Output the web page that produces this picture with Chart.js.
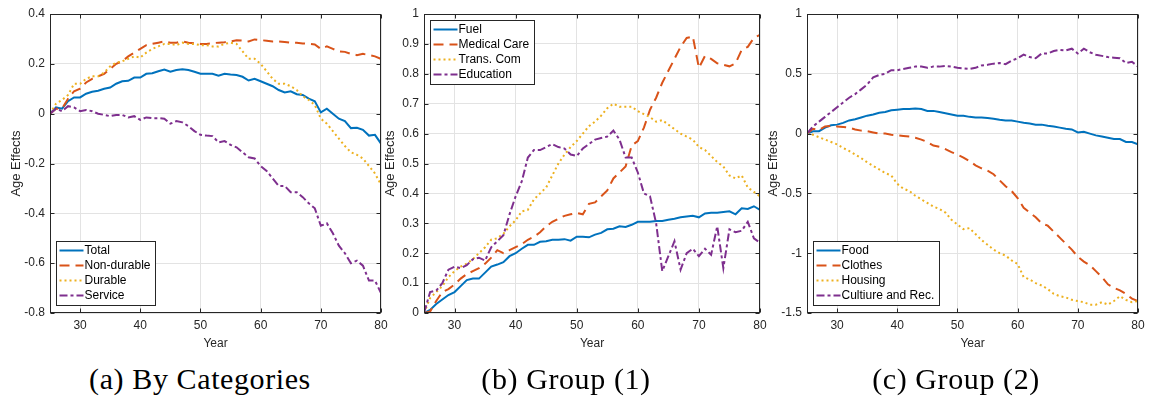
<!DOCTYPE html>
<html>
<head>
<meta charset="utf-8">
<script src="https://cdn.jsdelivr.net/npm/chart.js@4.4.0/dist/chart.umd.min.js"></script>
<style>
  body { margin: 0; background: #fff; width: 1149px; height: 403px; position: relative; overflow: hidden; }
  canvas { position: absolute; top: 0; }
  .cap { position: absolute; top: 364px; font-family: "Liberation Serif", serif; font-size: 30px; line-height: 30px;
         white-space: nowrap; transform: translateX(-50%); color: #000; letter-spacing: 0.6px; }
</style>
</head>
<body>
<canvas id="c1" width="390" height="360" style="left:0px"></canvas>
<canvas id="c2" width="396" height="360" style="left:374px"></canvas>
<canvas id="c3" width="390" height="360" style="left:757px"></canvas>
<div class="cap" style="left:200px">(a) By Categories</div>
<div class="cap" style="left:566px">(b) Group (1)</div>
<div class="cap" style="left:956px">(c) Group (2)</div>
<script>
const years = [25,26,27,28,29,30,31,32,33,34,35,36,37,38,39,40,41,42,43,44,45,46,47,48,49,50,51,52,
  53,54,55,56,57,58,59,60,61,62,63,64,65,66,67,68,69,70,71,72,73,74,75,76,77,78,79,80];
const xTicks = [30, 40, 50, 60, 70, 80];

// (a) By Categories
const labelsA = ["Total", "Non-durable", "Durable", "Service"];
const totalVals = [0,0.025,0.02,0.05,0.065,0.065,0.08,0.088,0.092,0.1,0.105,0.12,0.13,0.132,0.145,0.145,0.16,0.162,0.17,0.177,
  0.168,0.175,0.178,0.175,0.168,0.16,0.16,0.16,0.152,0.16,0.157,0.155,0.148,0.133,0.14,0.13,0.12,0.11,0.095,0.085,
  0.09,0.078,0.075,0.06,0.05,0.005,0.02,0.0,-0.02,-0.03,-0.058,-0.057,-0.065,-0.088,-0.085,-0.12];
const nonDurableVals = [0,0.02,0.02,0.06,0.09,0.1,0.125,0.14,0.15,0.16,0.18,0.2,0.21,0.23,0.245,0.26,0.275,0.28,0.285,0.29,
  0.285,0.285,0.29,0.285,0.282,0.28,0.28,0.283,0.285,0.287,0.29,0.295,0.293,0.29,0.298,0.295,0.293,0.29,0.29,0.288,
  0.285,0.285,0.282,0.28,0.278,0.26,0.27,0.26,0.25,0.248,0.24,0.235,0.24,0.235,0.23,0.22];
const durableVals = [0,0.04,0.055,0.075,0.12,0.12,0.14,0.15,0.15,0.165,0.19,0.205,0.21,0.22,0.23,0.225,0.245,0.26,0.27,0.28,
  0.28,0.275,0.285,0.28,0.28,0.275,0.275,0.27,0.27,0.28,0.285,0.28,0.25,0.22,0.22,0.2,0.17,0.14,0.12,0.12,
  0.11,0.095,0.07,0.055,0.035,-0.02,-0.04,-0.07,-0.1,-0.13,-0.155,-0.165,-0.18,-0.21,-0.24,-0.285];
const serviceVals = [0,0.02,0.01,0.03,0.025,0.01,0.015,0.01,0,-0.005,-0.01,-0.005,-0.005,-0.015,-0.01,-0.025,-0.015,-0.018,-0.018,-0.02,
  -0.04,-0.03,-0.035,-0.05,-0.07,-0.085,-0.088,-0.09,-0.115,-0.11,-0.125,-0.135,-0.155,-0.175,-0.18,-0.21,-0.23,-0.26,-0.29,-0.29,
  -0.315,-0.315,-0.335,-0.36,-0.38,-0.45,-0.44,-0.48,-0.53,-0.56,-0.6,-0.59,-0.61,-0.67,-0.67,-0.72];
const yTicksA = [-0.8, -0.6, -0.4, -0.2, 0, 0.2, 0.4];

// (b) Group (1)
const labelsB = ["Fuel", "Medical Care", "Trans. Com", "Education"];
const fuelVals = [0,0.01,0.03,0.045,0.06,0.07,0.09,0.11,0.115,0.115,0.135,0.155,0.162,0.17,0.19,0.2,0.215,0.228,0.228,0.238,
  0.24,0.245,0.245,0.247,0.242,0.255,0.255,0.253,0.262,0.268,0.28,0.282,0.29,0.288,0.295,0.305,0.305,0.305,0.308,0.308,
  0.312,0.315,0.32,0.323,0.325,0.32,0.333,0.335,0.335,0.338,0.34,0.33,0.35,0.348,0.357,0.345];
const medicalVals = [0,0.005,0.04,0.07,0.08,0.095,0.115,0.13,0.14,0.15,0.165,0.185,0.21,0.2,0.21,0.22,0.23,0.245,0.255,0.27,
  0.29,0.305,0.315,0.325,0.33,0.335,0.33,0.365,0.37,0.39,0.41,0.45,0.47,0.49,0.56,0.575,0.62,0.68,0.72,0.77,
  0.81,0.85,0.89,0.92,0.925,0.82,0.86,0.85,0.835,0.83,0.825,0.835,0.88,0.89,0.92,0.93];
const transVals = [0,0.05,0.07,0.09,0.12,0.14,0.155,0.165,0.18,0.2,0.22,0.245,0.25,0.265,0.29,0.31,0.34,0.345,0.38,0.4,
  0.42,0.46,0.5,0.53,0.555,0.575,0.6,0.625,0.64,0.66,0.685,0.7,0.69,0.69,0.69,0.675,0.665,0.655,0.64,0.645,
  0.63,0.615,0.6,0.59,0.58,0.555,0.545,0.525,0.505,0.49,0.46,0.45,0.46,0.42,0.405,0.39];
const educationVals = [0,0.07,0.075,0.1,0.145,0.155,0.15,0.16,0.18,0.185,0.175,0.22,0.24,0.26,0.33,0.39,0.44,0.52,0.545,0.545,
  0.555,0.565,0.555,0.55,0.53,0.525,0.55,0.565,0.58,0.585,0.59,0.61,0.58,0.52,0.52,0.47,0.4,0.39,0.3,0.14,
  0.19,0.24,0.145,0.2,0.215,0.19,0.215,0.195,0.29,0.15,0.28,0.27,0.275,0.305,0.25,0.235];
const yTicksB = [0, 0.1, 0.2, 0.3, 0.4, 0.5, 0.6, 0.7, 0.8, 0.9, 1];

// (c) Group (2)
const labelsC = ["Food", "Clothes", "Housing", "Cultiure and Rec."];
const foodVals = [0,0.02,0.02,0.05,0.07,0.075,0.09,0.11,0.12,0.135,0.15,0.16,0.175,0.18,0.195,0.2,0.205,0.205,0.21,0.205,
  0.19,0.19,0.18,0.17,0.16,0.15,0.15,0.14,0.135,0.135,0.13,0.125,0.115,0.11,0.11,0.1,0.09,0.085,0.075,0.075,
  0.065,0.06,0.05,0.04,0.035,0.01,0.015,0,-0.015,-0.025,-0.035,-0.045,-0.045,-0.07,-0.07,-0.09];
const clothesVals = [0,0.04,0.03,0.06,0.065,0.06,0.055,0.05,0.035,0.025,0.02,0.01,0,0,-0.01,-0.015,-0.02,-0.025,-0.035,-0.05,
  -0.07,-0.1,-0.11,-0.13,-0.155,-0.175,-0.2,-0.23,-0.265,-0.29,-0.31,-0.34,-0.39,-0.44,-0.48,-0.54,-0.62,-0.66,-0.7,-0.75,
  -0.77,-0.82,-0.87,-0.92,-0.97,-1.03,-1.07,-1.1,-1.15,-1.2,-1.26,-1.29,-1.31,-1.34,-1.38,-1.4];
const housingVals = [0,-0.01,-0.03,-0.05,-0.07,-0.09,-0.12,-0.145,-0.175,-0.205,-0.24,-0.27,-0.3,-0.33,-0.35,-0.42,-0.46,-0.48,-0.52,-0.55,
  -0.58,-0.61,-0.63,-0.66,-0.72,-0.76,-0.8,-0.79,-0.84,-0.89,-0.93,-0.97,-1.0,-1.02,-1.06,-1.09,-1.2,-1.22,-1.25,-1.27,
  -1.3,-1.34,-1.36,-1.37,-1.39,-1.4,-1.41,-1.43,-1.43,-1.41,-1.43,-1.4,-1.36,-1.39,-1.41,-1.4];
const cultureVals = [0,0.06,0.1,0.14,0.18,0.22,0.26,0.3,0.33,0.37,0.41,0.47,0.49,0.5,0.53,0.53,0.54,0.55,0.56,0.56,
  0.55,0.56,0.56,0.565,0.56,0.55,0.545,0.54,0.55,0.57,0.575,0.585,0.59,0.58,0.61,0.63,0.66,0.64,0.63,0.67,
  0.67,0.69,0.7,0.695,0.71,0.67,0.71,0.68,0.66,0.65,0.64,0.635,0.63,0.59,0.6,0.56];
const yTicksC = [-1.5, -1, -0.5, 0, 0.5, 1];

const colors = ["#0072BD", "#D95319", "#EDB120", "#7E2F8E"];
const dashes = [[], [10, 6], [2, 3], [8, 3, 3, 3]];
const FONT = '"Liberation Sans", Arial, sans-serif';
const AXIS = "#262626";

// frame with inward ticks + legend box inside the axes
const matlabAxes = {
  id: "matlabAxes",
  afterDraw(chart, args, opts) {
    const ctx = chart.ctx, a = chart.chartArea;
    const xs = chart.scales.x, ys = chart.scales.y;
    ctx.save();
    ctx.strokeStyle = AXIS;
    ctx.lineWidth = 1;
    const L = Math.round(a.left) + 0.5, R = Math.round(a.right) - 0.5;
    const T = Math.round(a.top) + 0.5, B = Math.round(a.bottom) - 0.5;
    ctx.beginPath();
    xs.ticks.forEach(t => {
      const p = Math.round(xs.getPixelForValue(t.value)) + 0.5;
      ctx.moveTo(p, B); ctx.lineTo(p, B - 4);
      ctx.moveTo(p, T); ctx.lineTo(p, T + 4);
    });
    ys.ticks.forEach(t => {
      const p = Math.round(ys.getPixelForValue(t.value)) + 0.5;
      ctx.moveTo(L, p); ctx.lineTo(L + 4, p);
      ctx.moveTo(R, p); ctx.lineTo(R - 4, p);
    });
    ctx.stroke();
    ctx.strokeRect(L, T, R - L, B - T);

    // legend
    ctx.font = "12px " + FONT;
    const items = chart.data.datasets;
    const textW = Math.max(...items.map(d => ctx.measureText(d.label).width));
    const w = Math.round(textW + 33), h = 64;
    const bx = Math.round(a.left) + 6.5;
    const by = opts.corner === "nw" ? Math.round(a.top) + 6.5 : Math.round(a.bottom) - 7.5 - h;
    ctx.fillStyle = "#fff";
    ctx.fillRect(bx, by, w, h);
    ctx.strokeStyle = AXIS;
    ctx.strokeRect(bx, by, w, h);
    items.forEach((d, i) => {
      const yy = by + 9 + i * 15;
      ctx.save();
      ctx.strokeStyle = d.borderColor;
      ctx.lineWidth = 2;
      ctx.setLineDash(d.borderDash);
      ctx.beginPath();
      ctx.moveTo(bx + 3, yy); ctx.lineTo(bx + 27, yy);
      ctx.stroke();
      ctx.restore();
      ctx.fillStyle = "#000";
      ctx.textBaseline = "middle";
      ctx.textAlign = "left";
      ctx.fillText(d.label, bx + 28, yy + 0.5);
    });
    ctx.restore();
  }
};

function makeChart(id, labels, series, yMin, yMax, yTicks, corner, padRight) {
  return new Chart(document.getElementById(id), {
    type: "line",
    data: {
      datasets: series.map((vals, i) => ({
        label: labels[i],
        data: years.map((yr, k) => ({ x: yr, y: vals[k] })),
        borderColor: colors[i],
        borderDash: dashes[i],
        borderWidth: 2,
        pointRadius: 0,
        tension: 0,
        fill: false,
        order: 4 - i,
      })),
    },
    options: {
      responsive: false,
      animation: false,
      layout: { padding: { left: 0, right: padRight, top: 14, bottom: 0 } },
      plugins: { legend: { display: false }, tooltip: { enabled: false }, matlabAxes: { corner } },
      scales: {
        x: {
          type: "linear",
          min: 25,
          max: 80,
          afterBuildTicks: s => { s.ticks = xTicks.map(v => ({ value: v })); },
          afterFit: s => { s.height = 47; s.paddingLeft = 0; s.paddingRight = 0; },
          ticks: { color: AXIS, font: { family: FONT, size: 12 }, padding: 5, maxRotation: 0 },
          grid: { color: "#e3e3e3", drawTicks: false },
          border: { display: false },
          title: { display: true, text: "Year", color: AXIS, font: { family: FONT, size: 12 }, padding: { top: 9, bottom: 9 } },
        },
        y: {
          min: yMin,
          max: yMax,
          afterBuildTicks: s => { s.ticks = yTicks.map(v => ({ value: v })); },
          afterFit: s => { s.width = 50; s.paddingTop = 0; s.paddingBottom = 0; },
          ticks: { color: AXIS, font: { family: FONT, size: 12 }, padding: 5, callback: v => String(+v.toFixed(1)) },
          grid: { color: "#e3e3e3", drawTicks: false },
          border: { display: false },
          title: { display: true, text: "Age Effects", color: AXIS, font: { family: FONT, size: 13 }, padding: { top: 9, bottom: 9 } },
        },
      },
    },
    plugins: [matlabAxes],
  });
}

makeChart("c1", labelsA, [totalVals, nonDurableVals, durableVals, serviceVals], -0.8, 0.4, yTicksA, "sw", 9);
makeChart("c2", labelsB, [fuelVals, medicalVals, transVals, educationVals], 0, 1, yTicksB, "nw", 10);
makeChart("c3", labelsC, [foodVals, clothesVals, housingVals, cultureVals], -1.5, 1, yTicksC, "sw", 9);
</script>
</body>
</html>
